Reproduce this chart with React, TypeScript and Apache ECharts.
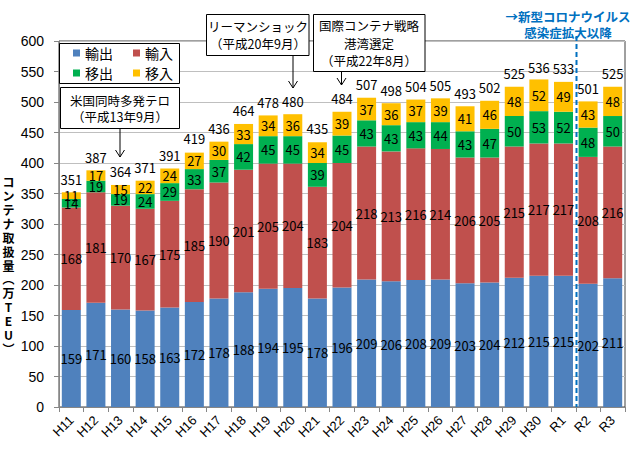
import React, { useEffect, useRef } from "react";
import * as echarts from "echarts";

const years = ["H11","H12","H13","H14","H15","H16","H17","H18","H19","H20","H21","H22","H23","H24","H25","H26","H27","H28","H29","H30","R1","R2","R3"];
const exportsData = [159,171,160,158,163,172,178,188,194,195,178,196,209,206,208,209,203,204,212,215,215,202,211];
const importsData = [168,181,170,167,175,185,190,201,205,204,183,204,218,213,216,214,206,205,215,217,217,208,216];
const outboundData = [14,19,19,24,29,33,37,42,45,45,39,45,43,43,43,44,43,47,50,53,52,48,50];
const inboundData = [11,17,15,22,24,27,30,33,34,36,34,39,37,36,37,39,41,46,48,52,49,43,48];
const totals = [351,387,364,371,391,419,436,464,478,480,435,484,507,498,504,505,493,502,525,536,533,501,525];
const seriesNames = ["輸出","輸入","移出","移入"];
const seriesColors = ["#4F81BD","#C0504D","#00B050","#FFC000"];

const FONT = "'Noto Sans CJK JP', 'Noto Sans', sans-serif";

function box(x: number, y: number, w: number, h: number) {
  return {
    type: "rect",
    z: 50,
    shape: { x, y, width: w, height: h },
    style: { fill: "#fff", stroke: "#000", lineWidth: 1 },
  };
}
function label(x: number, y: number, text: string, lh: number) {
  return {
    type: "text",
    z: 51,
    x,
    y,
    style: {
      text,
      fill: "#000",
      fontSize: 12.5,
      fontFamily: FONT,
      align: "center",
      verticalAlign: "middle",
      lineHeight: lh,
    },
  };
}
function arrow(x: number, y1: number, y2: number) {
  return [
    { type: "line", z: 51, shape: { x1: x, y1, x2: x, y2 }, style: { stroke: "#000", lineWidth: 1 } },
    {
      type: "polyline",
      z: 51,
      shape: { points: [[x - 4.5, y2 - 7], [x, y2], [x + 4.5, y2 - 7]] },
      style: { stroke: "#000", lineWidth: 1, fill: null },
    },
  ];
}

export default function App() {
  const ref = useRef<HTMLDivElement>(null);
  useEffect(() => {
    const chart = echarts.init(ref.current!, null, { renderer: "svg" });
    const data = [exportsData, importsData, outboundData, inboundData];
    const bars = seriesNames.map((name, i) => ({
      name,
      type: "bar",
      stack: "total",
      barWidth: 19,
      data: data[i],
      itemStyle: { color: seriesColors[i] },
      label: {
        show: true,
        position: "inside",
        color: "#000",
        fontSize: 13,
        fontFamily: FONT,
      },
    }));
    const legendCommon = {
      left: 73,
      z: 60,
      padding: 0,
      icon: "rect",
      itemWidth: 7,
      itemHeight: 7,
      itemGap: 20,
      textStyle: { fontSize: 14, color: "#000", fontFamily: FONT },
    };
    chart.setOption({
      animation: false,
      backgroundColor: "#fff",
      textStyle: { fontFamily: FONT },
      grid: {
        left: 59,
        right: 10,
        top: 41,
        bottom: 48,
        show: true,
        borderColor: "#404040",
        borderWidth: 1,
        backgroundColor: "transparent",
      },
      legend: [
        { ...legendCommon, data: ["輸出", "輸入"], top: 46 },
        { ...legendCommon, data: ["移出", "移入"], top: 66 },
      ],
      xAxis: {
        type: "category",
        data: years,
        axisLine: { lineStyle: { color: "#868686" } },
        axisTick: { show: true, alignWithLabel: false, length: 5, lineStyle: { color: "#868686" } },
        axisLabel: {
          rotate: 45,
          fontSize: 13,
          color: "#000",
          margin: 11,
          interval: 0,
          fontFamily: "'Liberation Sans', sans-serif",
        },
      },
      yAxis: {
        type: "value",
        min: 0,
        max: 600,
        interval: 50,
        axisLine: { show: true, lineStyle: { color: "#868686" } },
        axisTick: { show: true, length: 5, lineStyle: { color: "#868686" } },
        splitLine: { lineStyle: { color: "#BFBFBF" } },
        axisLabel: {
          fontSize: 14,
          color: "#000",
          margin: 15,
          fontFamily: "'Liberation Sans', sans-serif",
        },
      },
      series: [
        ...bars,
        {
          name: "合計",
          type: "line",
          data: totals,
          symbol: "circle",
          symbolSize: 1,
          showSymbol: true,
          silent: true,
          z: 10,
          itemStyle: { color: "rgba(0,0,0,0)" },
          lineStyle: { width: 0, opacity: 0 },
          label: {
            show: true,
            position: "top",
            distance: 6,
            color: "#000",
            fontSize: 13,
            fontFamily: FONT,
          },
        },
      ],
      graphic: [
        box(59.5, 43.5, 120, 40),
        box(60.5, 87.5, 119, 41),
        label(120, 108.5, "米国同時多発テロ\n（平成13年9月）", 16),
        ...arrow(120, 128.5, 157),
        box(206.5, 14.5, 102.5, 41),
        label(258, 35, "リーマンショック\n（平成20年9月）", 17.5),
        ...arrow(293, 55.5, 88),
        box(313.5, 14.5, 111.5, 57),
        label(369, 43, "国際コンテナ戦略\n港湾選定\n（平成22年8月）", 17.5),
        ...arrow(341.5, 71.5, 85),
        {
          type: "text",
          z: 51,
          x: 568,
          y: 24.5,
          style: {
            text: "→新型コロナウイルス\n感染症拡大以降",
            fill: "#0070C0",
            fontSize: 12.5,
            fontWeight: "bold",
            fontFamily: FONT,
            align: "center",
            verticalAlign: "middle",
            lineHeight: 15.6,
          },
        },
        {
          type: "line",
          z: 52,
          shape: { x1: 576.5, y1: 36, x2: 576.5, y2: 407 },
          style: { stroke: "#0070C0", lineWidth: 2, lineDash: [5, 3] },
        },
        {
          type: "text",
          z: 51,
          x: 8.5,
          y: 265,
          style: {
            text: "コ\nン\nテ\nナ\n取\n扱\n量\n︵\n万\nT\nE\nU\n︶",
            fill: "#000",
            fontSize: 12,
            fontWeight: "bold",
            fontFamily: FONT,
            align: "center",
            verticalAlign: "middle",
            lineHeight: 13.9,
          },
        },
      ],
    });
    return () => chart.dispose();
  }, []);
  return (
    <div
      ref={ref}
      style={{ position: "absolute", left: 0, top: 0, width: 635, height: 455 }}
    />
  );
}
